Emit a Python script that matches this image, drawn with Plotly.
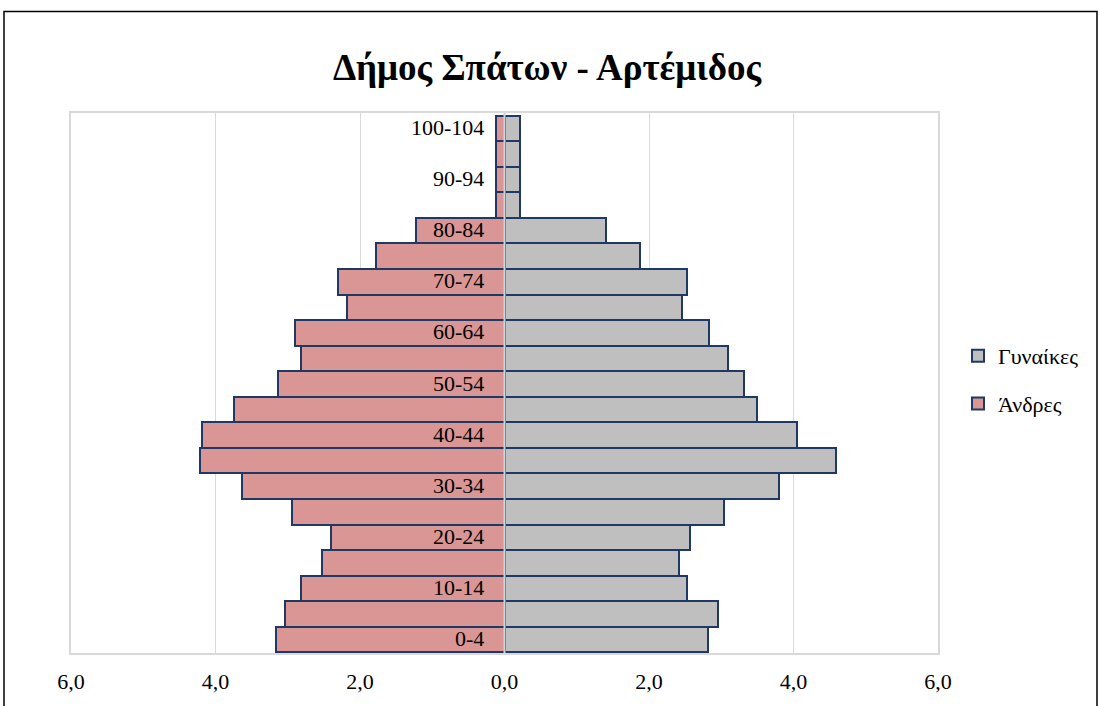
import plotly.graph_objects as go

age_groups = ["0-4", "5-9", "10-14", "15-19", "20-24", "25-29", "30-34", "35-39",
              "40-44", "45-49", "50-54", "55-59", "60-64", "65-69", "70-74", "75-79",
              "80-84", "85-89", "90-94", "95-99", "100-104"]
men = [3.16, 3.04, 2.81, 2.53, 2.40, 2.94, 3.64, 4.21, 4.19, 3.75, 3.13,
       2.81, 2.90, 2.18, 2.31, 1.78, 1.22, 0.12, 0.12, 0.12, 0.12]
women = [2.82, 2.96, 2.53, 2.41, 2.57, 3.04, 3.80, 4.59, 4.05, 3.49, 3.31,
         3.09, 2.83, 2.46, 2.53, 1.88, 1.40, 0.22, 0.22, 0.22, 0.22]
x_tickvals = [-6, -4, -2, 0, 2, 4, 6]
x_ticktext = ["6,0", "4,0", "2,0", "0,0", "2,0", "4,0", "6,0"]
shown_labels = age_groups[::2]

title = "Δήμος Σπάτων - Αρτέμιδος"
name_w = "Γυναίκες"
name_m = "Άνδρες"

FONT = "Liberation Serif, Times New Roman, serif"
OUTLINE = "#1F3864"

fig = go.Figure()
fig.add_trace(go.Bar(
    y=age_groups, x=women, orientation="h", name=name_w,
    marker=dict(color="#BFBFBF", line=dict(color=OUTLINE, width=2)),
    legendgroup="w",
))
fig.add_trace(go.Bar(
    y=age_groups, x=[-v for v in men], orientation="h", name=name_m,
    marker=dict(color="#D99694", line=dict(color=OUTLINE, width=2)),
    legendgroup="m",
))

annotations = []
for lab in shown_labels:
    annotations.append(dict(
        x=0, y=lab, xref="x", yref="y", text=lab, showarrow=False,
        xanchor="right", yanchor="middle", xshift=-19, yshift=1,
        font=dict(family=FONT, size=22, color="#000000"),
    ))

W, H = 1100, 706
ml, mr, mt, mb = 71, 162, 113, 53
pw, ph = W - ml - mr, H - mt - mb

def px_x(p):
    return (p - ml) / pw

def px_y(p):
    return (H - mb - p) / ph

shapes = [
    dict(type="line", xref="x", yref="paper", x0=0, x1=0, y0=0, y1=1,
         line=dict(color="#D0D4DC", width=2), layer="above"),
    dict(type="rect", xref="paper", yref="paper",
         x0=px_x(4), x1=px_x(1097), y0=px_y(730), y1=px_y(11.5),
         line=dict(color="#000000", width=1.5), layer="below"),
]

fig.update_layout(
    width=W, height=H,
    margin=dict(l=ml, r=mr, t=mt, b=mb, autoexpand=False),
    paper_bgcolor="#FFFFFF", plot_bgcolor="#FFFFFF",
    barmode="overlay", bargap=0,
    font=dict(family=FONT, color="#000000"),
    title=dict(text="<b>" + title + "</b>", x=547 / W, xanchor="center",
               y=1 - 67 / H, yanchor="middle",
               font=dict(family=FONT, size=37, color="#000000")),
    xaxis=dict(range=[-6, 6], tickvals=x_tickvals, ticktext=x_ticktext,
               showgrid=True, gridcolor="#D9D9D9", gridwidth=1,
               zeroline=False, showline=True, mirror=True,
               linecolor="#D9D9D9", linewidth=2, ticks="",
               ticklabelstandoff=8, automargin=False,
               tickfont=dict(family=FONT, size=22, color="#000000")),
    yaxis=dict(categoryorder="array", categoryarray=age_groups,
               showticklabels=False, showgrid=False, zeroline=False,
               showline=True, mirror=True, linecolor="#D9D9D9", linewidth=2,
               ticks="", automargin=False),
    legend=dict(x=px_x(958), xanchor="left", y=px_y(380), yanchor="middle",
                font=dict(family=FONT, size=22, color="#000000"),
                traceorder="grouped", tracegroupgap=16,
                bgcolor="rgba(0,0,0,0)"),
    annotations=annotations,
    shapes=shapes,
    showlegend=True,
)

fig.write_html(
    "out.html",
    config={"displayModeBar": False},
    post_script=(
        "document.documentElement.style.margin='0';"
        "document.body.style.margin='0';"
        "document.documentElement.style.overflow='hidden';"
        "document.body.style.overflow='hidden';"
    ),
)
